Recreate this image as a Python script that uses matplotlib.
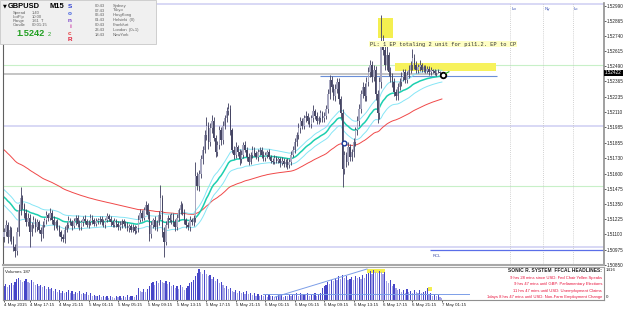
import numpy as np
import matplotlib
matplotlib.use("Agg")
import matplotlib.pyplot as plt
from matplotlib.patches import Rectangle

# =============================================================================
# GBPUSD M15 chart, MT4 style (prices kept in pips above 1.5000)
# =============================================================================

W, H = 625, 310
BASE = 1.5

close_pips = [
    112, 118, 108, 114, 106, 100, 96, 112, 130, 140,
    134, 128, 120, 124, 112, 118, 122, 116, 120, 114,
    110, 118, 122, 126, 124, 128, 122, 118, 120, 116,
    112, 108, 106, 114, 118, 122, 120, 117, 121, 124,
    119, 116, 120, 123, 121, 118, 120, 124, 122, 119,
    121, 122, 123, 120, 118, 122, 125, 123, 120, 118, 121,
    119, 116, 118, 121, 119, 117, 115, 117, 114, 116,
    113, 115, 122, 128, 124, 130, 134, 126, 110, 118,
    122, 116, 120, 126, 140, 112, 104, 118, 124, 122,
    126, 120, 116, 124, 130, 134, 128, 122, 118, 116,
    122, 120, 124, 158, 150, 160, 172, 180, 192, 200, 186,
    198, 204, 190, 178, 184, 196, 188, 200, 206, 212,
    214, 196, 180, 176, 182, 178, 172, 176, 184, 180,
    174, 170, 176, 180, 177, 174, 178, 180, 176, 173,
    176, 178, 174, 171, 170, 173, 171, 172, 169, 171, 168,
    170, 167, 170, 176, 180, 186, 192, 198, 204, 200,
    206, 208, 204, 201, 206, 212, 208, 204, 206, 210,
    206, 208, 214, 226, 238, 232, 224, 230, 236, 222, 210,
    164, 176, 170, 182, 174, 178, 186, 196, 204, 214,
    226, 232, 224, 236, 244, 250, 240, 246, 226, 210,
    236, 270, 262, 250, 258, 244, 240, 236, 228, 224,
    232, 236, 240, 244, 238, 242, 246, 250, 256, 250,
    246, 248, 250, 246, 248, 245, 247, 244, 246, 245,
    243, 245, 244, 243, 242.2,
]
first_open_pips = 108

wick_up = [
    3, 4, 2, 3, 2, 3, 2, 4, 5, 9, 3, 2, 3, 4, 3, 2, 3, 2, 3, 2,
    2, 3, 2, 3, 2, 4, 2, 3, 2, 3, 2, 2, 2, 3, 2, 3, 2, 2, 3, 2,
    2, 3, 2, 2, 3, 2, 2, 3, 2, 2, 3, 2, 2, 2, 3, 2, 3, 2, 2, 2, 3,
    2, 2, 3, 2, 2, 2, 3, 2, 2, 3, 2, 2, 4, 3, 2, 3, 4, 2, 3, 3,
    2, 3, 2, 3, 11, 3, 4, 3, 2, 3, 2, 2, 3, 3, 2, 4, 2, 3, 2, 2,
    3, 2, 2, 12, 4, 3, 4, 3, 4, 7, 3, 4, 5, 3, 2, 3, 4, 3, 4, 3, 3,
    5, 3, 2, 3, 4, 2, 3, 4, 2, 3, 2, 3, 2, 3, 2, 2, 3, 2, 2, 3,
    2, 2, 3, 2, 2, 3, 2, 2, 2, 3, 2, 2, 3, 2, 3, 3, 4, 3, 4, 3, 2,
    3, 4, 2, 3, 3, 5, 2, 3, 2, 3, 2, 3, 3, 4, 4, 3, 2, 4, 3, 3, 2,
    4, 3, 2, 4, 3, 3, 4, 3, 4, 4, 3, 4, 3, 4, 4, 4, 3, 4, 3, 3,
    4, 21, 5, 4, 10, 3, 4, 3, 3, 2, 3, 3, 4, 3, 3, 3, 4, 3, 7, 3,
    3, 3, 4, 2, 2, 2, 2, 2, 2, 1, 2, 1, 2, 1, 1,
]

wick_dn = [
    4, 3, 5, 3, 4, 4, 5, 3, 3, 4, 3, 4, 3, 3, 12, 3, 3, 4, 3, 3,
    5, 3, 2, 3, 3, 2, 3, 4, 3, 2, 3, 3, 2, 3, 2, 3, 2, 3, 2, 3,
    3, 2, 2, 3, 2, 2, 3, 2, 3, 2, 2, 2, 3, 2, 2, 3, 2, 2, 3, 2, 2,
    3, 2, 2, 3, 2, 2, 2, 3, 2, 2, 3, 2, 3, 2, 3, 2, 3, 3, 5, 3,
    3, 2, 3, 2, 3, 4, 13, 3, 3, 2, 3, 3, 3, 2, 3, 3, 2, 3, 3, 2,
    3, 2, 3, 4, 3, 4, 3, 4, 3, 4, 5, 3, 4, 3, 4, 3, 3, 4, 3, 3, 3,
    3, 4, 3, 4, 3, 3, 5, 3, 3, 2, 3, 3, 2, 3, 2, 2, 3, 2, 3, 2,
    2, 3, 2, 2, 2, 2, 2, 2, 3, 2, 2, 2, 3, 2, 3, 2, 3, 3, 3, 4, 3,
    3, 3, 3, 2, 3, 3, 3, 3, 3, 3, 3, 3, 3, 4, 4, 4, 3, 4, 3, 4, 4,
    15, 4, 4, 3, 3, 3, 4, 3, 4, 4, 4, 3, 4, 4, 3, 4, 4, 3, 5, 8,
    5, 5, 4, 4, 4, 3, 4, 4, 4, 3, 3, 3, 3, 3, 3, 3, 3, 3, 4, 3,
    3, 3, 3, 2, 2, 2, 2, 2, 2, 2, 1, 2, 1, 1, 1,
]

volume = [
    640, 720, 600, 680, 780, 700, 820, 960, 1000, 900, 840, 880, 960, 820, 760, 900, 800, 700, 740, 620,
    680, 580, 640, 520, 600, 480, 540, 420, 500, 380, 460, 340, 420, 300, 380, 440, 320, 400, 280, 360,
    300, 420, 260, 340, 280, 380, 220, 300, 180, 240, 160, 190, 220, 140, 200, 120, 180, 100, 160, 140, 90,
    160, 120, 200, 100, 180, 140, 220, 120, 160, 200, 130, 240, 560, 420, 360, 480, 380, 520, 640, 760,
    820, 700, 860, 780, 900, 840, 760, 880, 720, 800, 640, 700, 560, 620, 520, 680, 580, 460, 540, 640,
    760, 820, 900, 1100, 1250, 1416, 1300, 1180, 1350, 1200, 1080, 1150, 980, 1040, 880, 940, 760, 820, 700, 560, 620,
    480, 540, 420, 380, 460, 340, 400, 300, 360, 280, 420, 260, 320, 220, 300, 180, 260, 200, 240, 160,
    220, 140, 260, 180, 200, 150, 200, 240, 170, 210, 130, 190, 160, 230, 180, 280, 220, 300, 200, 320, 240,
    280, 220, 300, 180, 260, 240, 320, 200, 280, 340, 560, 620, 680, 820, 740, 900, 860, 1000, 920, 1080, 960,
    1140, 1000, 1080, 900, 960, 1040, 920, 1100, 1000, 1060, 940, 1120, 1020, 1180, 1240, 1320, 1200, 1370, 1280, 1230,
    1340, 1300, 1210, 1260, 880, 760, 900, 640, 720, 540, 460, 520, 380, 440, 340, 480, 360, 420, 300, 460,
    380, 320, 440, 300, 360, 420, 560, 280, 340, 200, 260, 160, 220, 140, 100,
]

# starting values of the moving averages, read at the left edge
seed_mid, seed_hi, seed_lo, seed_slow = 142.6, 149.0, 136.0, 181.5

time_labels = ["4 May 2015", "4 May 17:15", "4 May 21:15", "5 May 01:15", "5 May 05:15",
               "5 May 09:15", "5 May 13:15", "5 May 17:15", "5 May 21:15", "6 May 01:15",
               "6 May 05:15", "6 May 09:15", "6 May 13:15", "6 May 17:15", "6 May 21:15",
               "7 May 01:15"]
price_labels = ["1.52990", "1.52865", "1.52740", "1.52615", "1.52490", "1.52365", "1.52235",
                "1.52110", "1.51985", "1.51855", "1.51730", "1.51600", "1.51475", "1.51350",
                "1.51225", "1.51100", "1.50975", "1.50850"]
headlines = ["9 hrs 28 mins since USD: Fed Chair Yellen Speaks",
             "9 hrs 47 mins until GBP: Parliamentary Elections",
             "11 hrs 47 mins until USD: Unemployment Claims",
             "1days 8 hrs 47 mins until USD: Non-Farm Employment Change"]
cities = ["Sydney", "Tokyo", "HongKong", "Helsinki  (0)", "Frankfurt", "London  (0+1)", "NewYork"]
city_times = ["00:43", "07:43", "06:43", "01:43", "00:43", "23:43", "18:43"]

n = len(close_pips)
assert len(wick_up) == n and len(wick_dn) == n and len(volume) == n, (n, len(wick_up), len(wick_dn), len(volume))

c = np.array(close_pips, dtype=float)
o = np.r_[first_open_pips, c[:-1]]
hi = np.maximum(o, c) + np.array(wick_up)
lo = np.minimum(o, c) - np.array(wick_dn)


def ema(vals, period, seed):
    a = 2.0 / (period + 1)
    out, e = [], seed
    for v in vals:
        e = e + a * (v - e)
        out.append(e)
    return np.array(out)


ema_mid = ema(c, 34, seed_mid)
ema_hi = ema(hi, 34, seed_hi)
ema_lo = ema(lo, 34, seed_lo)
ema_slow = ema(c, 89, seed_slow)

P = lambda p: BASE + np.asarray(p) / 1e4
fx = lambda x: x / W
fy = lambda y: 1 - y / H

plt.rcParams['font.family'] = ['Liberation Sans', 'DejaVu Sans']
fig = plt.figure(figsize=(W / 100, H / 100), dpi=100)
fig.patch.set_facecolor('white')

# ---------------------------------------------------------------- main panel
ax = fig.add_axes([fx(3), fy(265), 601 / W, 262 / H])
ax.set_xlim(-0.54, 326.1)
ax.set_ylim(P(84.8), P(301.2))

for lvl in [1.53, 1.52, 1.51]:
    ax.axhline(lvl, color='#d6d6f4', lw=1.3, zorder=0)
for lvl in [1.525, 1.515]:
    ax.axhline(lvl, color='#c8f0c8', lw=0.8, zorder=0)

last = n - 1
for off, name in [(37, 'Lo'), (55, 'Ny'), (71, 'Lc')]:
    ax.axvline(last + off, color='#c4c4c4', lw=0.6, ls=(0, (1, 1.5)), zorder=0)
    ax.text(last + off + 0.8, P(296.5), name, fontsize=3.2, color='#4058b8', va='center')

ax.add_patch(Rectangle((203.3, P(272.3)), 8.1, 0.00167, fc='#f4ef50', ec='none', zorder=1))
ax.add_patch(Rectangle((212.5, P(245.0)), 54.9, 0.00067, fc='#f7f25c', ec='none', zorder=1))
ax.hlines(P(242.6), -0.5, 236, color='#c0c0c0', lw=1.3, zorder=1)
ax.hlines(P(241.3), 171.7, 268, color='#6a8fd8', lw=0.8, zorder=2)
ax.hlines(P(97.2), 231.5, 327, color='#5a6ee8', lw=0.9, zorder=2)
ax.text(233, P(92.5), 'RCL', fontsize=3.0, color='#3040a0', va='center')

x = np.arange(n)
ax.plot(x, P(ema_slow), color='#f04848', lw=0.7, zorder=2)
ax.plot(x, P(ema_hi), color='#86e6f6', lw=0.7, zorder=2)
ax.plot(x, P(ema_lo), color='#86e6f6', lw=0.7, zorder=2)
ax.plot(x, P(ema_mid), color='#1ccfb0', lw=1.1, zorder=2)

ax.vlines(x, P(lo), P(hi), color='#4a4a68', lw=0.65, zorder=3)
up = c >= o
ax.bar(x[up], (P(c) - P(o))[up], bottom=P(o)[up], width=0.75, color='#a8a8c0', lw=0, zorder=4)
ax.bar(x[~up], (P(o) - P(c))[~up], bottom=P(c)[~up], width=0.75, color='#464664', lw=0, zorder=4)

ax.plot(185, P(185.6), 'o', ms=3.4, mfc='white', mec='#1a3a9a', mew=1.0, zorder=6)
ax.plot(238.6, P(241.7), 'o', ms=4, mfc='white', mec='black', mew=1.3, zorder=6)
ax.plot([240.3, 241.8], [P(243.2), P(244.4)], color='#20b020', lw=0.8, zorder=6)

ax.text(199, P(267.3), "PL: 1 EP totaling 2 unit for pil1.2. EP to CP", fontsize=3.9,
        family='Liberation Mono', color='#303030', va='center', zorder=7,
        bbox=dict(boxstyle='square,pad=0.15', fc='#ffffc4', ec='none'))

ax.yaxis.tick_right()
ax.set_yticks([float(v) for v in price_labels], price_labels)
ax.tick_params(axis='y', labelsize=3.3, length=1.5, width=0.5, pad=0.6, colors='#202020')
ax.set_xticks([])
ax.spines['top'].set_visible(False)
ax.spines['left'].set_color('#606060')
ax.spines['left'].set_linewidth(0.8)
ax.spines['right'].set_color('#909090')
ax.spines['right'].set_linewidth(1.2)
ax.spines['bottom'].set_color('#a8a8a8')
ax.spines['bottom'].set_linewidth(1.5)

fig.text(fx(605), fy(73), "1.52422", fontsize=3.3, color='white', va='center',
         bbox=dict(boxstyle='square,pad=0.2', fc='black', ec='none'))

# -------------------------------------------------------------- volume panel
axv = fig.add_axes([fx(3), fy(300), 601 / W, 33 / H])
axv.set_xlim(-0.54, 326.1)
axv.set_ylim(0, 1507)
vol = np.array(volume)
rising = np.r_[True, vol[1:] > vol[:-1]]
axv.add_patch(Rectangle((197.3, 1230), 9.7, 186, fc='#f4ef50', ec='none', zorder=0))
axv.add_patch(Rectangle((230.4, 411), 2.2, 183, fc='#f4ef50', ec='none', zorder=0))
axv.bar(x[rising], vol[rising], width=0.65, color='#4646c8', lw=0, zorder=2)
axv.bar(x[~rising], vol[~rising], width=0.65, color='#a4a4e6', lw=0, zorder=2)
axv.plot([140.8, 253], [274, 274], color='#7c9ee8', lw=0.7, zorder=3)
axv.plot([147.3, 197.3], [137, 1416], color='#7c9ee8', lw=0.7, zorder=3)
axv.text(0.003, 0.86, "Volumes 187", transform=axv.transAxes, fontsize=3.2, color='#202020', va='center')

bars_at = [0] + [14 + 16 * k for k in range(15)]
axv.set_xticks(bars_at, time_labels)
axv.tick_params(axis='x', labelsize=3.2, length=1.5, width=0.5, pad=0.8, colors='#202020')
for lab in axv.get_xticklabels():
    lab.set_ha('left')
axv.set_yticks([])
for side in axv.spines:
    axv.spines[side].set_color('#909090')
    axv.spines[side].set_linewidth(0.8)
axv.spines['top'].set_color('#a8a8a8')

fig.text(fx(606), fy(270), "1416", fontsize=3.2, va='center', color='#202020')
fig.text(fx(606), fy(297), "0", fontsize=3.2, va='center', color='#202020')

fig.text(fx(602), fy(271), "SONIC R. SYSTEM  FFCAL HEADLINES:", fontsize=3.5, ha='right',
         va='center', color='#202020', fontweight='bold')
for k, line in enumerate(headlines):
    fig.text(fx(602), fy(278 + 6.4 * k), line, fontsize=3.0, ha='right', va='center', color='#e8103a')

# ---------------------------------------------------------------- info panel
fig.patches.append(Rectangle((0, fy(44)), fx(156), 44 / H, transform=fig.transFigure,
                             fc='#f0f0f0', ec='#c8c8c8', lw=0.6, zorder=5))
fig.text(fx(2.5), fy(6), "\u25bc", fontsize=3.6, va='center', family='DejaVu Sans', zorder=6)
fig.text(fx(8), fy(6), "GBPUSD", fontsize=5.4, fontweight='bold', va='center', zorder=6)
fig.text(fx(50), fy(6), "M15", fontsize=5.4, fontweight='bold', va='center', zorder=6)
for k, (lab, val) in enumerate(zip(["Spread", "LotPip", "Range", "Candle"],
                                   ["1.40", "10.00", "161  T", "00:01:15"])):
    fig.text(fx(13), fy(13.3 + 4 * k), lab, fontsize=3.0, color='#606060', va='center', zorder=6)
    fig.text(fx(32), fy(13.3 + 4 * k), val, fontsize=3.0, color='#606060', va='center', zorder=6)
fig.text(fx(16), fy(33.5), "1.5242", fontsize=6.6, fontweight='bold', color='#22a022', va='center', zorder=6)
fig.text(fx(48), fy(34.5), "2", fontsize=4.0, color='#22a022', va='center', zorder=6)
for k, (ch, col) in enumerate(zip("SonicR", ['#3040d0', '#4060e0', '#7a40c8', '#d040a8', '#e84040', '#e0203a'])):
    fig.text(fx(70), fy([6, 13.3, 20.5, 27, 33.3, 39.5][k]), ch, fontsize=4.6, fontweight='bold',
             color=col, va='center', ha='center', zorder=6)
for k, (t, cname) in enumerate(zip(city_times, cities)):
    fig.text(fx(95), fy(5.7 + 4.8 * k), t, fontsize=3.0, color='#606060', va='center', zorder=6)
    fig.text(fx(113), fy(5.7 + 4.8 * k), cname, fontsize=3.0, color='#606060', va='center', zorder=6)

fig.savefig('out.png', dpi=100, facecolor='white')
